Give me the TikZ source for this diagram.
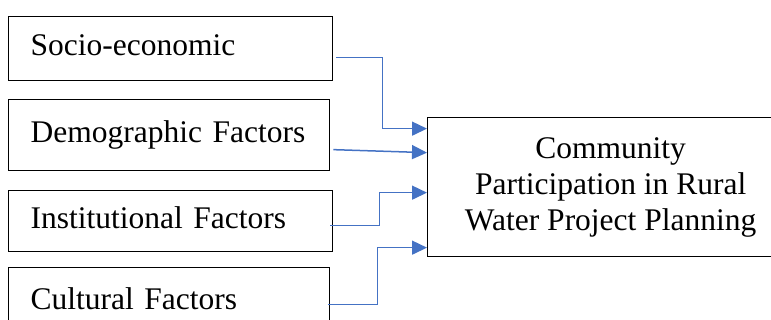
\documentclass[tikz,border=0pt]{standalone}
\usepackage{fontspec}
\setmainfont{Liberation Serif}
\usetikzlibrary{arrows.meta,calc}
\definecolor{conblue}{HTML}{4472C4}
\begin{document}
\begin{tikzpicture}[x=1pt,y=-1pt,
  txt/.style={font=\fontsize{31.5}{36}\selectfont},
  factor/.style={txt,draw=black,line width=1.3pt,rectangle,anchor=north west,
    inner xsep=22pt,inner ysep=0pt,text height=22pt,text depth=8pt,align=left},
  mainbox/.style={txt,draw=black,line width=1.3pt,rectangle,anchor=north west,
    inner sep=0pt,align=center},
  conn/.style={draw=conblue,line width=1.5pt,-{Triangle[length=15pt,width=14pt]}}
]
\useasboundingbox (0,0) rectangle (771,320);
\clip (0,0) rectangle (771,320);
\node[factor,minimum width=324pt,minimum height=64pt,text width=280pt] (s1) at (8,16) {\mbox{Socio-economic}};
\node[factor,minimum width=321pt,minimum height=71pt,text width=277pt] (s2) at (8,99) {\mbox{Demographic Factors}};
\node[factor,minimum width=324pt,minimum height=61pt,text width=280pt] (s3) at (8,190) {\mbox{Institutional Factors}};
\node[factor,minimum width=321pt,minimum height=70pt,text width=277pt] (s4) at (8,267) {\mbox{Cultural Factors}};
\node[mainbox,minimum width=366pt,minimum height=139pt] (m) at (427,117) {Community\\Participation in Rural\\Water Project Planning};
\draw[conn] ([xshift=3pt,yshift=-9pt]s1.east) -- ++(46,0) |- ([yshift=58.5pt]m.west);
\draw[conn] ([xshift=3pt,yshift=-14.5pt]s2.east) -- ([yshift=34.5pt]m.west);
\draw[conn] ([xshift=-3pt,yshift=-4.5pt]s3.east) -- ++(49,0) |- ([yshift=-5.5pt]m.west);
\draw[conn] ([xshift=-2pt,yshift=-2pt]s4.east) -- ++(49,0) |- ([yshift=-60.5pt]m.west);
\end{tikzpicture}
\end{document}
